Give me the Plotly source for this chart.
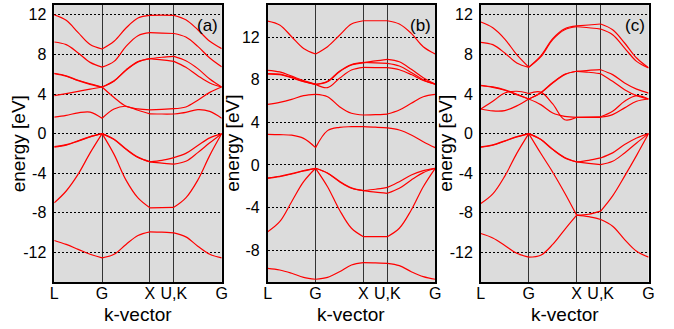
import plotly.graph_objects as go

# k-path sampling: L -> G -> X -> U|K -> G (quarter steps on each leg)
K = [0, 0.25, 0.5, 0.75, 1.0, 1.25, 1.5, 1.75, 2.0, 2.25, 2.5, 2.75, 3.0, 3.25, 3.5]
SEGMENTS = [(0, 4), (4, 8), (8, 10), (10, 14)]
K_TICKS = [0, 1, 2, 2.5, 3.5]
K_LABELS = ["L", "G", "X", "U,K", "G"]

# ---- panel (a) bands [eV] ----
BANDS_A = [
    [-10.8, -11.2, -11.7, -12.2, -12.56, -12.2, -11.2, -10.3, -9.93, -9.96, -10.03, -10.44, -11.38, -12.2, -12.56],
    [-7.0, -5.8, -4.1, -1.95, 0.0, -2.1, -4.7, -6.5, -7.5, -7.48, -7.45, -6.5, -4.7, -2.2, 0.0],
    [-1.36, -1.16, -0.76, -0.33, 0.0, -0.6, -1.59, -2.42, -2.85, -2.7, -2.42, -2.0, -1.2, -0.43, 0.0],
    [-1.32, -1.12, -0.72, -0.30, 0.0, -0.57, -1.55, -2.38, -2.85, -2.98, -3.08, -2.8, -1.92, -0.93, 0.0],
    [1.66, 1.85, 2.1, 2.18, 1.55, 2.49, 2.76, 2.36, 2.0, 1.98, 1.98, 2.15, 2.42, 2.25, 1.55],
    [3.84, 4.05, 4.27, 4.5, 4.71, 3.65, 2.76, 2.5, 2.39, 2.45, 2.52, 2.69, 3.37, 4.17, 4.71],
    [6.06, 5.8, 5.35, 4.98, 4.71, 5.3, 6.4, 7.24, 7.58, 7.72, 7.81, 7.37, 6.57, 5.52, 4.71],
    [6.10, 5.84, 5.39, 5.02, 4.71, 5.34, 6.44, 7.28, 7.58, 7.45, 7.3, 6.7, 5.86, 5.12, 4.71],
    [9.26, 8.99, 8.15, 7.2, 6.72, 7.3, 8.82, 9.9, 10.2, 10.16, 10.12, 9.76, 8.82, 7.64, 6.75],
    [12.0, 11.45, 10.2, 9.0, 8.55, 9.33, 10.67, 11.68, 11.95, 11.97, 11.95, 11.5, 10.5, 9.33, 8.59],
]

# ---- panel (b) bands [eV] ----
BANDS_B = [
    [-9.71, -9.87, -10.18, -10.56, -10.74, -10.56, -10.03, -9.4, -9.18, -9.2, -9.24, -9.46, -10.03, -10.5, -10.74],
    [-6.27, -5.33, -3.45, -1.57, -0.31, -2.04, -4.23, -5.95, -6.74, -6.74, -6.74, -5.95, -4.23, -2.04, -0.31],
    [-1.25, -1.1, -0.85, -0.56, -0.31, -0.78, -1.57, -2.19, -2.41, -2.28, -2.1, -1.57, -0.94, -0.53, -0.31],
    [-1.21, -1.06, -0.81, -0.53, -0.31, -0.75, -1.53, -2.15, -2.41, -2.55, -2.66, -2.19, -1.41, -0.72, -0.31],
    [2.88, 2.85, 2.8, 2.5, 1.63, 3.23, 3.54, 3.6, 3.6, 3.55, 3.48, 3.29, 2.82, 2.19, 1.63],
    [5.7, 5.89, 6.17, 6.52, 6.64, 6.42, 5.48, 4.86, 4.7, 4.73, 4.79, 5.17, 5.8, 6.42, 6.64],
    [8.55, 8.5, 8.2, 7.83, 7.58, 7.83, 8.77, 9.4, 9.6, 9.78, 9.93, 9.7, 9.0, 8.2, 7.6],
    [8.6, 8.54, 8.24, 7.86, 7.58, 7.87, 8.81, 9.44, 9.64, 9.6, 9.55, 9.3, 8.7, 8.0, 7.6],
    [8.9, 8.75, 8.35, 7.93, 7.58, 7.27, 8.15, 8.93, 9.18, 9.16, 9.15, 8.95, 8.5, 7.95, 7.6],
    [13.53, 13.16, 12.06, 10.96, 10.43, 11.12, 12.2, 13.25, 13.56, 13.56, 13.56, 13.25, 12.37, 11.12, 10.43],
]

# ---- panel (c) bands [eV] ----
BANDS_C = [
    [-10.1, -10.55, -11.3, -12.1, -12.49, -12.29, -11.2, -9.7, -8.25, -8.4, -8.68, -9.36, -10.71, -11.9, -12.49],
    [-7.07, -6.1, -4.3, -2.0, 0.0, -1.99, -3.9, -6.0, -8.25, -8.15, -7.84, -6.3, -4.3, -2.2, 0.0],
    [-1.38, -1.18, -0.77, -0.34, 0.0, -0.6, -1.62, -2.46, -2.86, -2.7, -2.46, -1.95, -1.11, -0.44, 0.0],
    [-1.34, -1.14, -0.73, -0.31, 0.0, -0.57, -1.58, -2.42, -2.86, -3.0, -3.13, -2.8, -1.95, -0.94, 0.0],
    [2.49, 2.3, 2.33, 2.8, 3.5, 2.93, 2.09, 1.75, 1.65, 1.65, 1.65, 1.92, 2.6, 3.27, 3.5],
    [2.49, 3.27, 4.1, 4.28, 4.05, 4.2, 3.0, 1.4, 1.65, 1.68, 1.7, 2.26, 3.27, 3.84, 3.5],
    [4.85, 4.68, 4.38, 3.94, 3.5, 4.1, 5.12, 5.96, 6.3, 6.4, 6.46, 5.96, 5.12, 4.5, 4.1],
    [4.89, 4.72, 4.42, 3.98, 3.5, 4.14, 5.16, 6.0, 6.3, 6.2, 6.06, 5.29, 4.44, 3.84, 3.5],
    [9.23, 8.99, 8.15, 7.14, 6.7, 7.75, 9.5, 10.5, 10.8, 10.7, 10.57, 10.0, 8.65, 7.3, 6.63],
    [11.28, 10.7, 9.56, 7.98, 6.72, 7.85, 9.6, 10.6, 10.88, 10.98, 11.08, 10.5, 9.16, 7.64, 6.65],
]

# energy axes: ranges and tick labels
Y_RANGE_AC = [-15, 13.0]
Y_RANGE_B = [-11, 15.04]
Y_TICKS_AC = [-12, -8, -4, 0, 4, 8, 12]
Y_TICKS_B = [-8, -4, 0, 4, 8, 12]
PANEL_TAGS = ["(a)", "(b)", "(c)"]

W, H = 674, 329
FONT = "Liberation Sans, Arial, sans-serif"

# plot-area boxes in pixels (left, right), shared top/bottom
X_BOXES = [(51, 221), (267.7, 437.7), (484, 654.3)]
TOP, BOTTOM = 5, 282


def band_xy(values):
    xs, ys = [], []
    for i0, i1 in SEGMENTS:
        if xs:
            xs.append(None)
            ys.append(None)
        xs.extend(K[i0:i1 + 1])
        ys.extend(values[i0:i1 + 1])
    return xs, ys


fig = go.Figure()
panels = [(BANDS_A, Y_RANGE_AC, Y_TICKS_AC),
          (BANDS_B, Y_RANGE_B, Y_TICKS_B),
          (BANDS_C, Y_RANGE_AC, Y_TICKS_AC)]

for p, (bands, yr, yt) in enumerate(panels):
    sfx = "" if p == 0 else str(p + 1)
    for b in bands:
        xs, ys = band_xy(b)
        fig.add_trace(go.Scatter(
            x=xs, y=ys, mode="lines", xaxis="x" + sfx, yaxis="y" + sfx,
            line=dict(color="#ff0000", width=1.2, shape="spline", smoothing=1.0),
            connectgaps=False, showlegend=False, hoverinfo="skip"))

    l, r = X_BOXES[p]
    fig.layout["xaxis" + sfx] = dict(
        domain=[l / W, r / W], anchor="y" + sfx, range=[0, 3.5],
        tickvals=K_TICKS, ticktext=K_LABELS, ticks="", ticklen=0,
        ticklabelstandoff=-4,
        tickfont=dict(family=FONT, size=16, color="black"),
        showgrid=True, gridcolor="#333333", gridwidth=1.2,
        showline=True, mirror=True, linecolor="black", linewidth=1.5,
        zeroline=False, fixedrange=True)
    fig.layout["yaxis" + sfx] = dict(
        domain=[(H - BOTTOM) / H, (H - TOP) / H], anchor="x" + sfx, range=yr,
        tickvals=yt, ticktext=[str(v) for v in yt], ticks="", ticklen=0,
        ticklabelstandoff=3,
        tickfont=dict(family=FONT, size=16, color="black"),
        showgrid=True, gridcolor="black", gridwidth=1, griddash="2px,2px",
        showline=True, mirror=True, linecolor="black", linewidth=1.5,
        zeroline=False, fixedrange=True)

    cx = (l + r) / 2
    fig.add_annotation(text="k-vector", xref="paper", yref="paper",
                       x=cx / W, y=(H - 314) / H, showarrow=False,
                       xanchor="center", yanchor="middle",
                       font=dict(family=FONT, size=19, color="black"))
    fig.add_annotation(text="energy [eV]", xref="paper", yref="paper",
                       x=(l - 36) / W, y=(H - (TOP + BOTTOM) / 2) / H,
                       showarrow=False, textangle=-90,
                       xanchor="center", yanchor="middle",
                       font=dict(family=FONT, size=19, color="black"))
    fig.add_annotation(text=PANEL_TAGS[p], xref="paper", yref="paper",
                       x=(r - 2) / W, y=(H - 26) / H, showarrow=False,
                       xanchor="right", yanchor="middle",
                       font=dict(family=FONT, size=17, color="black"))

fig.update_layout(
    width=W, height=H, autosize=False,
    margin=dict(l=0, r=0, t=0, b=0),
    paper_bgcolor="white", plot_bgcolor="#dcdcdc",
)

fig.write_html("out.html")
